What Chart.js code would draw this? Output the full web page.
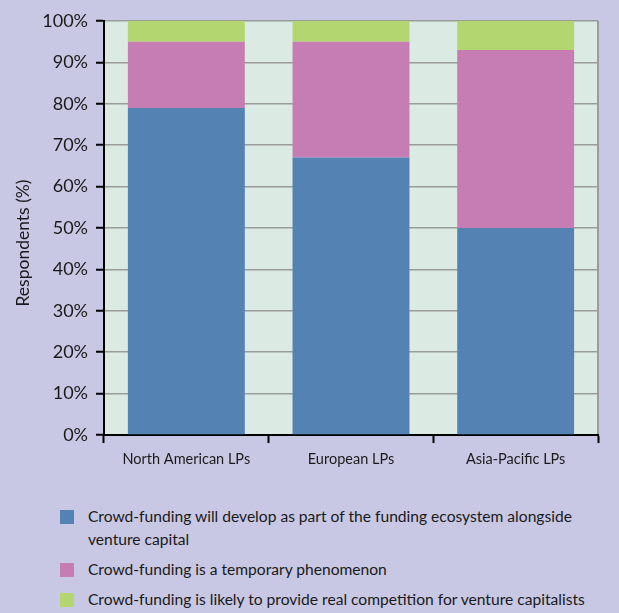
<!DOCTYPE html>
<html>
<head>
<meta charset="utf-8">
<script src="https://cdn.jsdelivr.net/npm/chart.js@4/dist/chart.umd.min.js"></script>
<style>
    body { margin: 0; background: #c8c8e4; font-family: Lato, "Open Sans", sans-serif; }
    #wrap { position: relative; width: 619px; height: 613px; }
    #chartBox { position: absolute; left: 0; top: 0; width: 619px; height: 480px; }
    #legend { position: absolute; left: 60px; top: 505px; width: 556px; color: #1a1a1a; font-size: 15.6px; }
    .item { display: flex; align-items: flex-start; margin-bottom: 7px; line-height: 23px; }
    .box { width: 14px; height: 14px; flex: none; margin-top: 5px; margin-right: 14px; }
</style>
</head>
<body>
<div id="wrap">
    <div id="chartBox"><canvas id="barChart"></canvas></div>
    <div id="legend"></div>
</div>
<script>
// respondent shares per LP region
var regions = ["North American LPs", "European LPs", "Asia-Pacific LPs"];
var developPart = [79, 67, 50];
var temporary = [16, 28, 43];
var competition = [5, 5, 7];

var seriesNames = [
    "Crowd-funding will develop as part of the funding ecosystem alongside venture capital",
    "Crowd-funding is a temporary phenomenon",
    "Crowd-funding is likely to provide real competition for venture capitalists"
];
var yTitle = "Respondents (%)";
var barColors = ["#5482b2", "#c67db4", "#b4d670"];

// fills the plot area, draws its right border and the y axis title
var plotBackground = {
    id: "plotBackground",
    beforeDraw: function (chart) {
        var a = chart.chartArea;
        var ctx = chart.ctx;
        ctx.save();
        ctx.fillStyle = "#dceae4";
        ctx.fillRect(a.left, a.top, a.right - a.left, a.bottom - a.top);
        ctx.strokeStyle = "#9a9c9a";
        ctx.lineWidth = 2;
        ctx.beginPath();
        ctx.moveTo(a.right, a.top);
        ctx.lineTo(a.right, a.bottom);
        ctx.stroke();
        ctx.restore();
    },
    afterDraw: function (chart) {
        var ctx = chart.ctx;
        ctx.save();
        ctx.translate(23, 243);
        ctx.rotate(-Math.PI / 2);
        ctx.font = "17.5px Lato";
        ctx.fillStyle = "#1a1a1a";
        ctx.textAlign = "center";
        ctx.textBaseline = "middle";
        ctx.fillText(yTitle, 0, 0);
        ctx.restore();
    }
};

var allValues = [developPart, temporary, competition];

new Chart("barChart", {
    type: "bar",
    data: {
        labels: regions,
        datasets: allValues.map(function (vals, i) {
            return {
                label: seriesNames[i],
                data: vals,
                backgroundColor: barColors[i],
                borderWidth: 0,
                categoryPercentage: 1,
                barPercentage: 0.71
            };
        })
    },
    options: {
        responsive: true,
        maintainAspectRatio: false,
        animation: false,
        layout: { padding: { top: 21, right: 21, left: 0, bottom: 0 } },
        plugins: {
            legend: { display: false },
            tooltip: { enabled: false }
        },
        scales: {
            x: {
                stacked: true,
                grid: { drawOnChartArea: false, tickLength: 8, tickColor: "#000", tickWidth: 2 },
                border: { color: "#000", width: 2 },
                ticks: { color: "#1a1a1a", font: { family: "Lato", size: 14.5 }, padding: 8 },
                afterFit: function (scale) { scale.height = 45; }
            },
            y: {
                stacked: true,
                min: 0,
                max: 100,
                grid: { color: "#9a9c9a", lineWidth: 1.5, tickLength: 8, tickColor: "#000", tickWidth: 2 },
                border: { color: "#000", width: 2 },
                ticks: {
                    stepSize: 10,
                    color: "#1a1a1a",
                    padding: 8,
                    font: { family: "Lato", size: 18 },
                    callback: function (v) { return v + "%"; }
                },
                afterFit: function (scale) { scale.width = 104; }
            }
        }
    },
    plugins: [plotBackground]
});

// legend below the chart, text wraps like the original
var legendEl = document.getElementById("legend");
seriesNames.forEach(function (name, i) {
    var row = document.createElement("div");
    row.className = "item";
    var box = document.createElement("span");
    box.className = "box";
    box.style.background = barColors[i];
    var txt = document.createElement("span");
    txt.textContent = name;
    row.appendChild(box);
    row.appendChild(txt);
    legendEl.appendChild(row);
});
</script>
</body>
</html>
